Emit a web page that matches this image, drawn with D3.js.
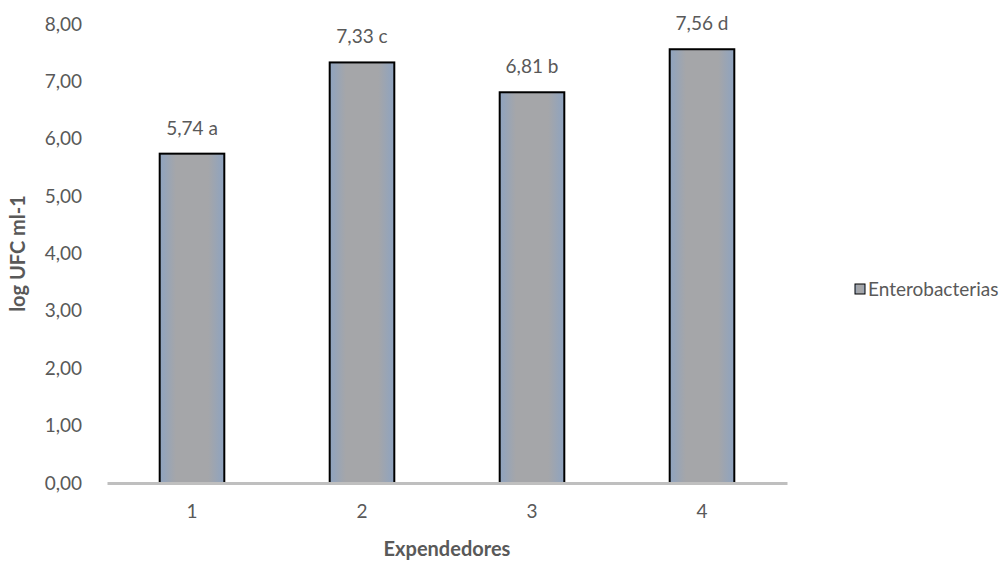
<!DOCTYPE html>
<html>
<head>
<meta charset="utf-8">
<script src="https://cdn.jsdelivr.net/npm/d3@7"></script>
<style>
	body { margin: 0; background: #fff; }
	text { font-family: Lato, "Open Sans", sans-serif; fill: #595959; }
</style>
</head>
<body>
<script>
var categories = ['1', '2', '3', '4'];
var values = [5.74, 7.33, 6.81, 7.56];
var letters = ['a', 'c', 'b', 'd'];
var yTicks = [0, 1, 2, 3, 4, 5, 6, 7, 8];
var seriesName = 'Enterobacterias';

var width = 1005, height = 561;
var margin = { left: 107, right: 218, top: 24, bottom: 78 };
var fs = '19px';

var svg = d3.select('body').append('svg')
	.attr('width', width)
	.attr('height', height);

// gradient for the bars: gray middle, bluish edges
var defs = svg.append('defs');
var grad = defs.append('linearGradient')
	.attr('id', 'barfill')
	.attr('x1', '0').attr('x2', '1').attr('y1', '0').attr('y2', '0');
grad.append('stop').attr('offset', '0%').attr('stop-color', '#8ea3c0');
grad.append('stop').attr('offset', '25%').attr('stop-color', '#a5a6a9');
grad.append('stop').attr('offset', '75%').attr('stop-color', '#a5a6a9');
grad.append('stop').attr('offset', '100%').attr('stop-color', '#8ea3c0');

var x = d3.scaleBand()
	.domain(categories)
	.range([margin.left, width - margin.right])
	.paddingInner(0.62)
	.paddingOuter(0.31);

var y = d3.scaleLinear()
	.domain([0, 8])
	.range([height - margin.bottom, margin.top]);

// y axis labels
var yAxis = d3.axisLeft(y)
	.tickValues(yTicks)
	.tickSize(0)
	.tickPadding(25)
	.tickFormat(function(d) { return d3.format('.2f')(d).replace('.', ','); });

var gy = svg.append('g')
	.attr('transform', 'translate(' + margin.left + ',0)')
	.call(yAxis);
gy.select('.domain').remove();
gy.selectAll('text')
	.style('font-size', fs)
	.style('font-family', 'Lato, "Open Sans", sans-serif')
	.attr('fill', '#595959');

// bars
svg.selectAll('rect.bar')
	.data(values).enter()
	.append('rect')
	.attr('class', 'bar')
	.attr('x', function(d, i) { return x(categories[i]); })
	.attr('y', function(d) { return y(d); })
	.attr('width', x.bandwidth())
	.attr('height', function(d) { return y(0) - y(d); })
	.attr('fill', 'url(#barfill)')
	.attr('stroke', '#000')
	.attr('stroke-width', 2);

// x axis
var xAxis = d3.axisBottom(x).tickSize(0).tickPadding(22);
var gx = svg.append('g')
	.attr('transform', 'translate(0,' + y(0) + ')')
	.call(xAxis);
gx.select('.domain')
	.attr('stroke', '#bfbfbf')
	.attr('stroke-width', 3);
gx.selectAll('text')
	.style('font-size', fs)
	.style('font-family', 'Lato, "Open Sans", sans-serif')
	.attr('fill', '#595959');

// value labels
svg.selectAll('text.val')
	.data(values).enter()
	.append('text')
	.attr('class', 'val')
	.attr('x', function(d, i) { return x(categories[i]) + x.bandwidth() / 2; })
	.attr('y', function(d) { return y(d) - 19; })
	.attr('text-anchor', 'middle')
	.style('font-size', fs)
	.text(function(d, i) { return d3.format('.2f')(d).replace('.', ',') + ' ' + letters[i]; });

// axis titles
svg.append('text')
	.attr('x', (margin.left + width - margin.right) / 2)
	.attr('y', 556)
	.attr('text-anchor', 'middle')
	.style('font-size', '20px')
	.style('font-weight', 'bold')
	.text('Expendedores');

svg.append('text')
	.attr('transform', 'translate(25,' + y(4) + ') rotate(-90)')
	.attr('text-anchor', 'middle')
	.style('font-size', '20px')
	.style('font-weight', 'bold')
	.text('log UFC ml-1');

// legend
svg.append('rect')
	.attr('x', 855)
	.attr('y', 284)
	.attr('width', 10)
	.attr('height', 10)
	.attr('fill', 'url(#barfill)')
	.attr('stroke', '#000')
	.attr('stroke-width', 1);

svg.append('text')
	.attr('x', 868)
	.attr('y', 296)
	.style('font-size', fs)
	.text(seriesName);
</script>
</body>
</html>
